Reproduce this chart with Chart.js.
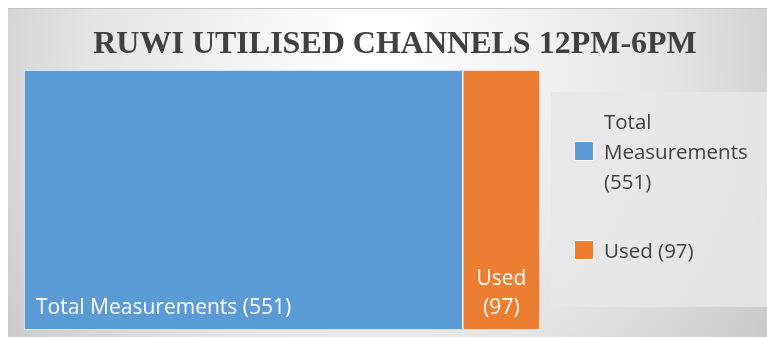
<!DOCTYPE html>
<html>
<head>
<meta charset="utf-8">
<script src="https://cdn.jsdelivr.net/npm/chart.js@4"></script>
<style>
  html, body { margin: 0; padding: 0; background: #fff; }
  #wrap { width: 767px; height: 338px; }
</style>
</head>
<body>
<div id="wrap"><canvas id="treeChart"></canvas></div>
<script>
// data
var chartTitle = "RUWI UTILISED CHANNELS 12PM-6PM";
var categories = ["Total Measurements", "Used"];
var values = [551, 97];
var colors = ["#5b9bd5", "#ed7d31"];
var legendLines = [["Total", "Measurements", "(551)"], ["Used (97)"]];
var boxLines = [["Total Measurements (551)"], ["Used", "(97)"]];

var FONT = "'Open Sans', sans-serif";

// background, title, legend and labels
var decor = {
  id: "decor",
  beforeDraw: function(chart) {
    var c = chart.ctx;
    c.save();
    c.fillStyle = "#fff";
    c.fillRect(0, 0, chart.width, chart.height);
    var g = c.createRadialGradient(380, 30, 20, 380, 120, 520);
    g.addColorStop(0, "#ffffff");
    g.addColorStop(0.55, "#e4e4e4");
    g.addColorStop(1, "#bdbdbd");
    c.fillStyle = g;
    c.fillRect(8, 8, 759, 329);
    c.fillStyle = "#c4c4c4";
    c.fillRect(8, 8, 759, 1);

    // title
    c.fillStyle = "#404040";
    c.font = "bold 32px 'Liberation Serif', serif";
    c.textAlign = "center";
    c.textBaseline = "middle";
    c.fillText(chartTitle, 395, 45);

    // legend panel
    c.fillStyle = "rgba(232,232,232,0.85)";
    c.fillRect(551, 92, 216, 215);
    c.restore();
  },
  afterDraw: function(chart) {
    var c = chart.ctx;
    c.save();
    // legend
    var boxY = [151, 250];
    c.font = "20.5px " + FONT;
    c.textAlign = "left";
    c.textBaseline = "middle";
    for (var i = 0; i < categories.length; i++) {
      c.fillStyle = "#fff";
      c.fillRect(574, boxY[i] - 10, 20, 20);
      c.fillStyle = colors[i];
      c.fillRect(575, boxY[i] - 9, 18, 18);
      c.fillStyle = "#404040";
      var lines = legendLines[i];
      for (var k = 0; k < lines.length; k++) {
        c.fillText(lines[k], 604, boxY[i] + 2 + (k - (lines.length - 1) / 2) * 30);
      }
    }
    // labels inside rectangles
    c.fillStyle = "#fff";
    c.font = "21px " + FONT;
    for (var d = 0; d < chart.data.datasets.length; d++) {
      var bar = chart.getDatasetMeta(d).data[0];
      var left = bar.base, right = bar.x;
      var bottom = bar.y + bar.height / 2;
      var bl = boxLines[d];
      if (bl.length === 1) {
        c.textAlign = "left";
        c.fillText(bl[0], left + 12, bottom - 22);
      } else {
        c.textAlign = "center";
        for (var m = 0; m < bl.length; m++) {
          c.fillText(bl[m], (left + right) / 2, bottom - 22 - (bl.length - 1 - m) * 29);
        }
      }
    }
    c.restore();
  }
};

var datasets = categories.map(function(name, i) {
  return {
    label: name,
    data: [values[i]],
    backgroundColor: colors[i],
    borderColor: "#ffffff",
    borderWidth: 1,
    borderSkipped: false,
    categoryPercentage: 1,
    barPercentage: 1
  };
});

var ctx = document.getElementById("treeChart").getContext("2d");
var treeChart = new Chart(ctx, {
  type: "bar",
  data: { labels: ["all"], datasets: datasets },
  options: {
    indexAxis: "y",
    responsive: true,
    maintainAspectRatio: false,
    animation: false,
    layout: { padding: { left: 24, right: 227, top: 70, bottom: 8 } },
    scales: {
      x: { stacked: true, display: false, min: 0, max: values[0] + values[1] },
      y: { stacked: true, display: false }
    },
    plugins: {
      legend: { display: false },
      tooltip: { enabled: false }
    }
  },
  plugins: [decor]
});
</script>
</body>
</html>
